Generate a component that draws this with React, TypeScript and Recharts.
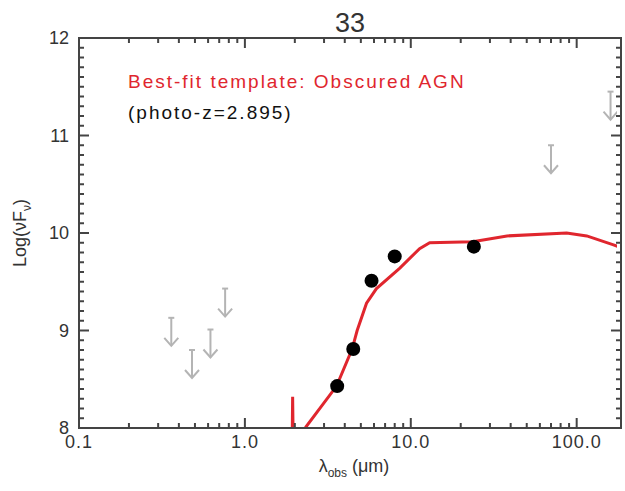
import React from 'react';
import { ComposedChart, Line, XAxis, YAxis } from 'recharts';

// best-fit template (obscured AGN), log(nuFnu) vs observed wavelength (um)
const templateWave = [1.92, 1.94, 1.96, 2.33, 3.57, 4.43, 4.75, 5.41, 6.21, 8.59, 11.3, 13.0, 23.6, 38, 87, 115, 165, 185];
const templateFlux = [7.6, 8.32, 7.7, 8.01, 8.43, 8.81, 9.0, 9.28, 9.43, 9.64, 9.84, 9.9, 9.91, 9.97, 10.0, 9.97, 9.88, 9.85];

// detections (IRAC + MIPS 24)
const photWave = [3.6, 4.5, 5.8, 8.0, 24];
const photFlux = [8.43, 8.81, 9.51, 9.76, 9.86];

// upper limits (optical + far-IR)
const limitWave = [0.36, 0.48, 0.62, 0.76, 70, 160];
const limitFlux = [9.13, 8.8, 9.01, 9.43, 10.9, 11.45];

const xMajor = [0.1, 1, 10, 100];
const xTickLabels = ['0.1', '1.0', '10.0', '100.0'];
const yMajor = [8, 9, 10, 11, 12];

const X_DOMAIN: [number, number] = [0.1, 185];
const Y_DOMAIN: [number, number] = [8, 12];

// minor tick positions (axis decoration only)
const xMinor: number[] = [];
xMajor.forEach((d) => {
  for (let m = 2; m <= 9; m++) {
    const v = +(d * m).toPrecision(6);
    if (v < X_DOMAIN[1]) xMinor.push(v);
  }
});
const yMinor: number[] = [];
for (let i = 1; i < 40; i++) if (i % 10 !== 0) yMinor.push(+(8 + i * 0.1).toFixed(1));

const templateData = templateWave.map((x, i) => ({ x, y: templateFlux[i] }));
const photData = photWave.map((x, i) => ({ x, y: photFlux[i] }));
const limitData = limitWave.map((x, i) => ({ x, y: limitFlux[i] }));

const AXIS = '#444';
const TEXT = '#333';
const RED = '#e0262e';
const FONT = '"Liberation Sans", Arial, sans-serif';

// chart box
const W = 617;
const H = 480;
const M = { top: 30, right: 4, bottom: 0, left: 0 };
const X_AXIS_H = 60;
const Y_AXIS_W = 71;
const PLOT = {
  left: M.left + Y_AXIS_W,
  right: W - M.right,
  top: M.top,
  bottom: H - M.bottom - X_AXIS_H,
};

// same mapping as the chart's log x / linear y axes, used only for the box ticks
const lx0 = Math.log10(X_DOMAIN[0]);
const lx1 = Math.log10(X_DOMAIN[1]);
const px = (v: number) => PLOT.left + ((Math.log10(v) - lx0) / (lx1 - lx0)) * (PLOT.right - PLOT.left);
const py = (v: number) => PLOT.bottom - ((v - Y_DOMAIN[0]) / (Y_DOMAIN[1] - Y_DOMAIN[0])) * (PLOT.bottom - PLOT.top);

const BottomLabel = (props: any) => {
  const { x, y, payload } = props;
  const idx = xMajor.findIndex((m) => Math.abs(m - payload.value) < 1e-6 * m);
  if (idx < 0) return null;
  return (
    <text x={x} y={y + 20} textAnchor="middle" fontSize={18} fill={TEXT} letterSpacing={1}>
      {xTickLabels[idx]}
    </text>
  );
};

const LeftLabel = (props: any) => {
  const { x, y, payload } = props;
  return (
    <text x={x - 10} y={y + 6} textAnchor="end" fontSize={18} fill={TEXT}>
      {payload.value}
    </text>
  );
};

const PhotDot = (props: any) => {
  const { cx, cy } = props;
  return <circle cx={cx} cy={cy} r={7} fill="#000" />;
};

const LimitArrow = (props: any) => {
  const { cx, cy } = props;
  return (
    <g stroke="#b4b4b4" strokeWidth={2} fill="none">
      <line x1={cx - 3} y1={cy} x2={cx + 3} y2={cy} />
      <line x1={cx} y1={cy} x2={cx} y2={cy + 28} />
      <polyline points={`${cx - 7},${cy + 20} ${cx},${cy + 28} ${cx + 7},${cy + 20}`} />
    </g>
  );
};

// IDL-style box with inward major/minor ticks on all four sides
const BoxFrame: React.FC = () => {
  const segs: React.ReactNode[] = [];
  const xs = [...xMajor.map((v) => [v, 10]), ...xMinor.map((v) => [v, 5])];
  const ys = [...yMajor.map((v) => [v, 10]), ...yMinor.map((v) => [v, 5])];
  xs.forEach(([v, len], i) => {
    const x = px(v);
    segs.push(<line key={`b${i}`} x1={x} y1={PLOT.bottom} x2={x} y2={PLOT.bottom - len} />);
    segs.push(<line key={`t${i}`} x1={x} y1={PLOT.top} x2={x} y2={PLOT.top + len} />);
  });
  ys.forEach(([v, len], i) => {
    const y = py(v);
    segs.push(<line key={`l${i}`} x1={PLOT.left} y1={y} x2={PLOT.left + len} y2={y} />);
    segs.push(<line key={`r${i}`} x1={PLOT.right} y1={y} x2={PLOT.right - len} y2={y} />);
  });
  return (
    <svg
      width={W}
      height={H}
      style={{ position: 'absolute', left: 8, top: 8, pointerEvents: 'none', overflow: 'visible' }}
    >
      <g stroke={AXIS} strokeWidth={2} fill="none">
        <rect x={PLOT.left} y={PLOT.top} width={PLOT.right - PLOT.left} height={PLOT.bottom - PLOT.top} />
        {segs}
      </g>
    </svg>
  );
};

// overlay text positions are page pixels (body margin 8px)
const abs = (left: number, top: number, extra: React.CSSProperties = {}): React.CSSProperties => ({
  position: 'absolute',
  left,
  top,
  fontFamily: FONT,
  color: TEXT,
  whiteSpace: 'nowrap',
  ...extra,
});

const App: React.FC = () => (
  <>
    <ComposedChart width={W} height={H} margin={M} style={{ fontFamily: FONT }}>
      <XAxis
        dataKey="x"
        type="number"
        scale="log"
        domain={X_DOMAIN}
        allowDataOverflow
        ticks={xMajor}
        tickSize={0}
        tickMargin={0}
        tick={<BottomLabel />}
        height={X_AXIS_H}
        stroke={AXIS}
        axisLine={{ strokeWidth: 2 }}
      />
      <YAxis
        type="number"
        domain={Y_DOMAIN}
        allowDataOverflow
        ticks={yMajor}
        tickSize={0}
        tickMargin={0}
        tick={<LeftLabel />}
        width={Y_AXIS_W}
        stroke={AXIS}
        axisLine={{ strokeWidth: 2 }}
      />
      <Line
        data={templateData}
        dataKey="y"
        type="linear"
        stroke={RED}
        strokeWidth={3}
        dot={false}
        activeDot={false}
        isAnimationActive={false}
      />
      <Line
        data={photData}
        dataKey="y"
        stroke="none"
        strokeWidth={0}
        dot={<PhotDot />}
        activeDot={false}
        isAnimationActive={false}
      />
      <Line
        data={limitData}
        dataKey="y"
        stroke="none"
        strokeWidth={0}
        dot={<LimitArrow />}
        activeDot={false}
        isAnimationActive={false}
      />
    </ComposedChart>

    <BoxFrame />

    <div style={abs(350, 23, { transform: 'translate(-50%, -50%)', fontSize: 27 })}>33</div>
    <div style={abs(128, 82, { transform: 'translateY(-50%)', fontSize: 19, letterSpacing: 2, color: RED })}>
      Best-fit template: Obscured AGN
    </div>
    <div style={abs(128, 113, { transform: 'translateY(-50%)', fontSize: 19, letterSpacing: 2, color: '#111' })}>
      (photo-z=2.895)
    </div>
    <div style={abs(354, 468, { transform: 'translate(-50%, -50%)', fontSize: 18 })}>
      λ<sub style={{ fontSize: 12 }}>obs</sub> (μm)
    </div>
    <div style={abs(22, 233, { transform: 'translate(-50%, -50%) rotate(-90deg)', fontSize: 18 })}>
      Log(νF<sub style={{ fontSize: 12 }}>ν</sub>)
    </div>
  </>
);

export default App;
